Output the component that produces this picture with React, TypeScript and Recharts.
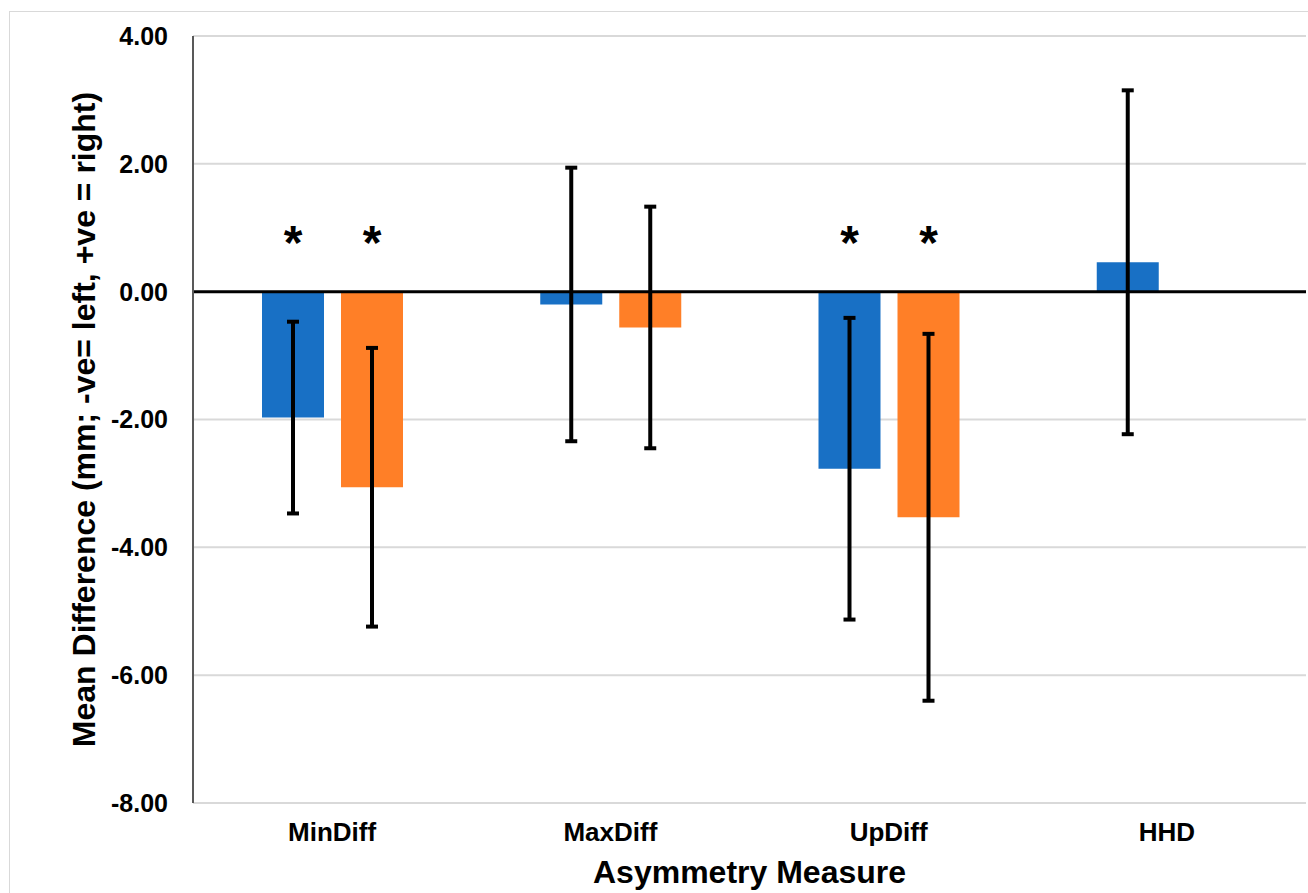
import React from "react";
import {
  BarChart,
  Bar,
  XAxis,
  YAxis,
  CartesianGrid,
  ErrorBar,
  ReferenceLine,
  LabelList,
  Label,
} from "recharts";

const categories = ["MinDiff", "MaxDiff", "UpDiff", "HHD"];
const blueMeans = [-1.97, -0.2, -2.77, 0.46];
const blueErrors = [1.5, 2.14, 2.36, 2.69];
const orangeMeans: (number | null)[] = [-3.06, -0.56, -3.53, null];
const orangeErrors: (number | null)[] = [2.18, 1.89, 2.87, null];
const blueSig = ["*", "", "*", ""];
const orangeSig = ["*", "", "*", ""];
const yTicks = [-8, -6, -4, -2, 0, 2, 4];

const FONT = '"Liberation Sans", Arial, sans-serif';

const data = categories.map((name, i) => ({
  name,
  blue: blueMeans[i],
  blueErr: blueErrors[i],
  orange: orangeMeans[i],
  orangeErr: orangeErrors[i],
  blueSig: blueSig[i],
  orangeSig: orangeSig[i],
}));

// asterisk drawn a fixed distance above the zero line of its bar
const Star = (props: any) => {
  const { value } = props;
  if (!value) return null;
  const x = props.x ?? props.viewBox?.x;
  const y = props.y ?? props.viewBox?.y;
  const width = props.width ?? props.viewBox?.width;
  const height = props.height ?? props.viewBox?.height;
  const top = Math.min(y, y + height);
  return (
    <text
      x={x + width / 2}
      y={top - 33}
      textAnchor="middle"
      fontFamily={FONT}
      fontWeight="bold"
      fontSize={48}
      fill="#000"
    >
      {value}
    </text>
  );
};

export default function App() {
  return (
    <div
      style={{
        position: "absolute",
        left: 0,
        top: 0,
        width: 1308,
        height: 893,
        overflow: "hidden",
        background: "#fff",
      }}
    >
      <div
        style={{
          position: "absolute",
          left: 9,
          top: 11,
          width: 1400,
          height: 1000,
          border: "1px solid #d9d9d9",
        }}
      />
      <div style={{ position: "absolute", left: 0, top: 0 }}>
        <BarChart
          width={1308}
          height={893}
          data={data}
          margin={{ top: 36, right: 2, left: 0, bottom: 0 }}
          barSize={62}
          barGap={17}
        >
          <CartesianGrid vertical={false} stroke="#d9d9d9" strokeWidth={2} />
          <XAxis
            dataKey="name"
            height={90}
            axisLine={false}
            tickLine={false}
            tickSize={0}
            tickMargin={20}
            tick={{ fill: "#000", fontSize: 26, fontWeight: "bold", fontFamily: FONT }}
          >
            <Label
              value="Asymmetry Measure"
              position="insideBottom"
              offset={10}
              style={{ fill: "#000", fontSize: 32, fontWeight: "bold", fontFamily: FONT }}
            />
          </XAxis>
          <YAxis
            width={193}
            domain={[-8, 4]}
            ticks={yTicks}
            interval={0}
            tickFormatter={(v: number) => v.toFixed(2)}
            axisLine={{ stroke: "#595959", strokeWidth: 2 }}
            tickLine={false}
            tickSize={0}
            tickMargin={25}
            tick={{ fill: "#000", fontSize: 25, fontWeight: "bold", fontFamily: FONT }}
          >
            <Label
              value="Mean Difference (mm; -ve= left, +ve = right)"
              angle={-90}
              position="insideLeft"
              offset={84}
              style={{
                textAnchor: "middle",
                fill: "#000",
                fontSize: 32,
                fontWeight: "bold",
                fontFamily: FONT,
              }}
            />
          </YAxis>
          <ReferenceLine y={0} stroke="#000" strokeWidth={3} />
          <Bar dataKey="blue" fill="#1870C5" isAnimationActive={false}>
            <ErrorBar dataKey="blueErr" width={6} strokeWidth={4} stroke="#000" direction="y" />
            <LabelList dataKey="blueSig" content={Star} />
          </Bar>
          <Bar dataKey="orange" fill="#FF7F27" isAnimationActive={false}>
            <ErrorBar dataKey="orangeErr" width={6} strokeWidth={4} stroke="#000" direction="y" />
            <LabelList dataKey="orangeSig" content={Star} />
          </Bar>
        </BarChart>
      </div>
    </div>
  );
}
